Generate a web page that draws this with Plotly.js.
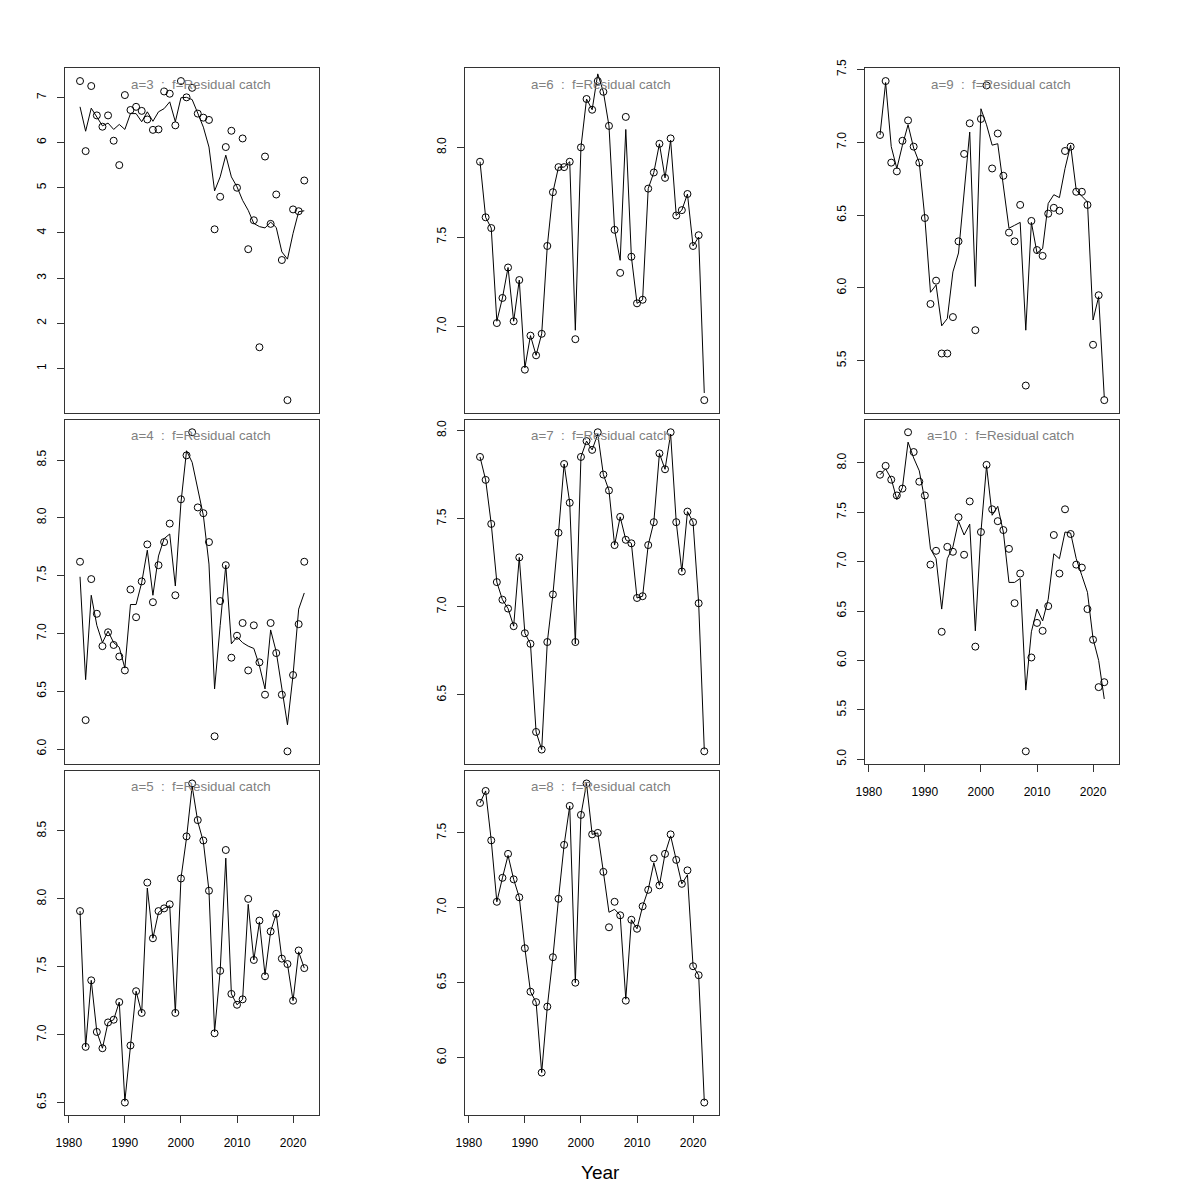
<!DOCTYPE html>
<html>
<head>
<meta charset="utf-8">
<script src="https://cdn.plot.ly/plotly-3.0.1.min.js"></script>
<style>html,body{margin:0;padding:0;background:#fff;}#chart{width:1200px;height:1200px;}</style>
</head>
<body>
<div id="chart"></div>
<script>
// Years
const years = [1982,1983,1984,1985,1986,1987,1988,1989,1990,1991,1992,1993,1994,1995,1996,1997,1998,1999,2000,2001,
  2002,2003,2004,2005,2006,2007,2008,2009,2010,2011,2012,2013,2014,2015,2016,2017,2018,2019,2020,2021,2022];

// Age 3
const a3_obs = [7.36,5.81,7.25,6.60,6.35,6.60,6.04,5.50,7.05,6.72,6.79,6.70,6.51,6.28,6.29,7.13,7.08,6.38,7.36,7.00,
  7.21,6.64,6.55,6.50,4.08,4.80,5.90,6.26,5.00,6.09,3.64,4.28,1.47,5.69,4.20,4.85,3.40,0.30,4.52,4.48,5.16];
const a3_fit = [6.79,6.25,6.76,6.55,6.37,6.43,6.29,6.40,6.29,6.64,6.64,6.46,6.68,6.47,6.68,6.75,6.90,6.46,6.99,7.00,
  6.95,6.65,6.34,5.90,4.93,5.24,5.72,5.24,5.02,4.72,4.50,4.21,4.14,4.11,4.24,4.12,3.58,3.42,3.99,4.47,4.49];

// Age 4
const a4_obs = [7.62,6.25,7.47,7.17,6.89,7.01,6.90,6.80,6.68,7.38,7.14,7.45,7.77,7.27,7.59,7.79,7.95,7.33,8.16,8.54,
  8.74,8.09,8.04,7.79,6.11,7.28,7.59,6.79,6.98,7.09,6.68,7.07,6.75,6.47,7.09,6.83,6.47,5.98,6.64,7.08,7.62];
const a4_fit = [7.49,6.60,7.33,7.07,6.92,7.02,6.92,6.88,6.70,7.25,7.25,7.44,7.72,7.33,7.67,7.82,7.86,7.41,8.13,8.58,
  8.48,8.25,8.02,7.60,6.52,7.07,7.59,6.91,6.97,6.92,6.89,6.87,6.72,6.52,7.03,6.84,6.51,6.21,6.64,7.21,7.35];

// Age 5
const a5_obs = [7.91,6.91,7.40,7.02,6.90,7.09,7.11,7.24,6.50,6.92,7.32,7.16,8.12,7.71,7.91,7.93,7.96,7.16,8.15,8.46,
  8.85,8.58,8.43,8.06,7.01,7.47,8.36,7.30,7.22,7.26,8.00,7.55,7.84,7.43,7.76,7.89,7.56,7.52,7.25,7.62,7.49];
const a5_fit = [7.91,6.91,7.40,7.02,6.90,7.09,7.11,7.24,6.51,6.92,7.32,7.16,8.08,7.71,7.90,7.93,7.95,7.16,8.15,8.45,
  8.83,8.57,8.42,8.06,7.02,7.47,8.30,7.30,7.22,7.26,7.96,7.55,7.83,7.44,7.76,7.89,7.56,7.52,7.25,7.61,7.49];

// Age 6
const a6_obs = [7.92,7.61,7.55,7.02,7.16,7.33,7.03,7.26,6.76,6.95,6.84,6.96,7.45,7.75,7.89,7.89,7.92,6.93,8.00,8.27,
  8.21,8.37,8.31,8.12,7.54,7.30,8.17,7.39,7.13,7.15,7.77,7.86,8.02,7.83,8.05,7.62,7.65,7.74,7.45,7.51,6.59];
const a6_fit = [7.92,7.61,7.55,7.03,7.16,7.33,7.03,7.26,6.77,6.95,6.84,6.96,7.45,7.75,7.89,7.89,7.92,6.98,8.00,8.27,
  8.21,8.41,8.31,8.12,7.54,7.37,8.10,7.39,7.13,7.15,7.77,7.86,8.02,7.83,8.04,7.62,7.65,7.74,7.45,7.50,6.63];

// Age 7
const a7_obs = [7.85,7.72,7.47,7.14,7.04,6.99,6.89,7.28,6.85,6.79,6.29,6.19,6.80,7.07,7.42,7.81,7.59,6.80,7.85,7.94,
  7.89,7.99,7.75,7.66,7.35,7.51,7.38,7.36,7.05,7.06,7.35,7.48,7.87,7.78,7.99,7.48,7.20,7.54,7.48,7.02,6.18];
const a7_fit = [7.85,7.72,7.47,7.14,7.04,6.99,6.89,7.28,6.85,6.79,6.29,6.19,6.80,7.07,7.42,7.81,7.59,6.79,7.85,7.94,
  7.89,7.98,7.75,7.66,7.35,7.51,7.38,7.36,7.05,7.06,7.35,7.48,7.87,7.78,7.98,7.48,7.20,7.54,7.48,7.02,6.19];

// Age 8
const a8_obs = [7.70,7.78,7.45,7.04,7.20,7.36,7.19,7.07,6.73,6.44,6.37,5.90,6.34,6.67,7.06,7.42,7.68,6.50,7.62,7.83,
  7.49,7.50,7.24,6.87,7.04,6.95,6.38,6.92,6.86,7.01,7.12,7.33,7.15,7.36,7.49,7.32,7.16,7.25,6.61,6.55,5.70];
const a8_fit = [7.70,7.78,7.45,7.04,7.20,7.35,7.19,7.07,6.73,6.44,6.37,5.90,6.34,6.67,7.06,7.42,7.68,6.50,7.62,7.83,
  7.49,7.50,7.24,6.97,6.99,6.95,6.39,6.92,6.86,7.01,7.12,7.30,7.15,7.36,7.48,7.32,7.16,7.22,6.61,6.55,5.71];

// Age 9
const a9_obs = [7.05,7.42,6.86,6.80,7.01,7.15,6.97,6.86,6.48,5.89,6.05,5.55,5.55,5.80,6.32,6.92,7.13,5.71,7.16,7.39,
  6.82,7.06,6.77,6.38,6.32,6.57,5.33,6.46,6.26,6.22,6.51,6.55,6.53,6.94,6.97,6.66,6.66,6.57,5.61,5.95,5.23];
const a9_fit = [7.05,7.41,6.97,6.82,6.98,7.12,6.96,6.86,6.48,5.97,6.02,5.74,5.79,6.11,6.24,6.68,7.07,6.01,7.23,7.12,
  6.98,6.99,6.68,6.41,6.43,6.45,5.71,6.45,6.24,6.27,6.58,6.64,6.62,6.82,6.98,6.67,6.63,6.59,5.78,5.94,5.25];

// Age 10
const a10_obs = [7.88,7.97,7.83,7.67,7.74,8.31,8.11,7.81,7.67,6.97,7.11,6.29,7.15,7.10,7.45,7.07,7.61,6.14,7.30,7.98,
  7.53,7.41,7.32,7.13,6.58,6.88,5.08,6.03,6.38,6.30,6.55,7.27,6.88,7.53,7.28,6.97,6.94,6.52,6.21,5.73,5.78];
const a10_fit = [7.88,7.94,7.84,7.63,7.75,8.21,8.05,7.92,7.62,7.13,7.03,6.52,7.03,7.15,7.41,7.27,7.38,6.30,7.30,7.97,
  7.47,7.56,7.30,6.79,6.79,6.83,5.70,6.29,6.52,6.40,6.62,7.08,7.03,7.30,7.29,7.03,6.86,6.69,6.22,6.00,5.61];

const ageLabels = ['a=3','a=4','a=5','a=6','a=7','a=8','a=9','a=10'];
const fleetLabel = 'f=Residual catch';
const xTickVals = [1980,1990,2000,2010,2020];

const panels = [
  {lab: ageLabels[0], obs: a3_obs, fit: a3_fit, col: 0, row: 0, dtick: 1, fmt: 'd', bottom: false},
  {lab: ageLabels[1], obs: a4_obs, fit: a4_fit, col: 0, row: 1, dtick: 0.5, fmt: '.1f', bottom: false},
  {lab: ageLabels[2], obs: a5_obs, fit: a5_fit, col: 0, row: 2, dtick: 0.5, fmt: '.1f', bottom: true},
  {lab: ageLabels[3], obs: a6_obs, fit: a6_fit, col: 1, row: 0, dtick: 0.5, fmt: '.1f', bottom: false},
  {lab: ageLabels[4], obs: a7_obs, fit: a7_fit, col: 1, row: 1, dtick: 0.5, fmt: '.1f', bottom: false},
  {lab: ageLabels[5], obs: a8_obs, fit: a8_fit, col: 1, row: 2, dtick: 0.5, fmt: '.1f', bottom: true},
  {lab: ageLabels[6], obs: a9_obs, fit: a9_fit, col: 2, row: 0, dtick: 0.5, fmt: '.1f', bottom: false},
  {lab: ageLabels[7], obs: a10_obs, fit: a10_fit, col: 2, row: 1, dtick: 0.5, fmt: '.1f', bottom: true}
];

const W = 1200, H = 1200;
const colLeft = [65, 465, 865];
const boxW = 254.3;
const rowTop = [68.3, 419.5, 770.7];
const boxH = 344.6;
const FONT = 'Liberation Sans, Arial, Helvetica, sans-serif';
const xRange = [1979.32, 2024.68];

const data = [];
const layout = {
  width: W, height: H,
  margin: {l: 0, r: 0, t: 0, b: 0},
  paper_bgcolor: '#fff', plot_bgcolor: '#fff',
  showlegend: false,
  font: {family: FONT, color: '#000', size: 12},
  annotations: []
};

panels.forEach((p, i) => {
  const k = i + 1;
  const xa = 'x' + (k === 1 ? '' : k);
  const ya = 'y' + (k === 1 ? '' : k);
  const xkey = 'xaxis' + (k === 1 ? '' : k);
  const ykey = 'yaxis' + (k === 1 ? '' : k);
  const lo = Math.min(...p.obs), hi = Math.max(...p.obs);
  const ext = 0.04 * (hi - lo);

  data.push({x: years, y: p.fit, xaxis: xa, yaxis: ya, type: 'scatter', mode: 'lines',
    line: {color: '#000', width: 1}, hoverinfo: 'skip'});
  data.push({x: years, y: p.obs, xaxis: xa, yaxis: ya, type: 'scatter', mode: 'markers',
    marker: {symbol: 'circle-open', size: 7, color: '#000', line: {width: 1, color: '#000'}}, hoverinfo: 'skip'});

  const x0 = colLeft[p.col] / W, x1 = (colLeft[p.col] + boxW) / W;
  const y1 = 1 - rowTop[p.row] / H, y0 = 1 - (rowTop[p.row] + boxH) / H;

  layout[xkey] = {
    domain: [x0, x1], anchor: ya, range: xRange,
    showgrid: false, zeroline: false,
    showline: true, mirror: true, linecolor: '#333', linewidth: 1,
    tickmode: 'array', tickvals: xTickVals,
    ticks: p.bottom ? 'outside' : '', ticklen: 7, tickcolor: '#333', tickwidth: 1,
    showticklabels: p.bottom, ticklabelstandoff: 9,
    tickfont: {family: FONT, size: 12, color: '#000'}
  };
  layout[ykey] = {
    domain: [y0, y1], anchor: xa, range: [lo - ext, hi + ext],
    showgrid: false, zeroline: false,
    showline: true, mirror: true, linecolor: '#333', linewidth: 1,
    tick0: 0, dtick: p.dtick, tickformat: p.fmt,
    ticks: 'outside', ticklen: 7, tickcolor: '#333', tickwidth: 1,
    tickangle: -90, ticklabelstandoff: 6,
    tickfont: {family: FONT, size: 12, color: '#000'}
  };
  layout.annotations.push({
    text: p.lab + ' \u00a0:\u00a0 ' + fleetLabel,
    xref: xa + ' domain', yref: ya + ' domain',
    x: 0.534, y: 1 - 16 / boxH, xanchor: 'center', yanchor: 'middle',
    showarrow: false, font: {family: FONT, size: 13.3, color: '#808080'}
  });
});

layout.annotations.push({
  text: 'Year', xref: 'paper', yref: 'paper', x: 0.5, y: 1 - 1172 / H,
  xanchor: 'center', yanchor: 'middle', showarrow: false,
  font: {family: FONT, size: 19, color: '#000'}
});

Plotly.newPlot('chart', data, layout, {staticPlot: true, displayModeBar: false});
</script>
</body>
</html>
